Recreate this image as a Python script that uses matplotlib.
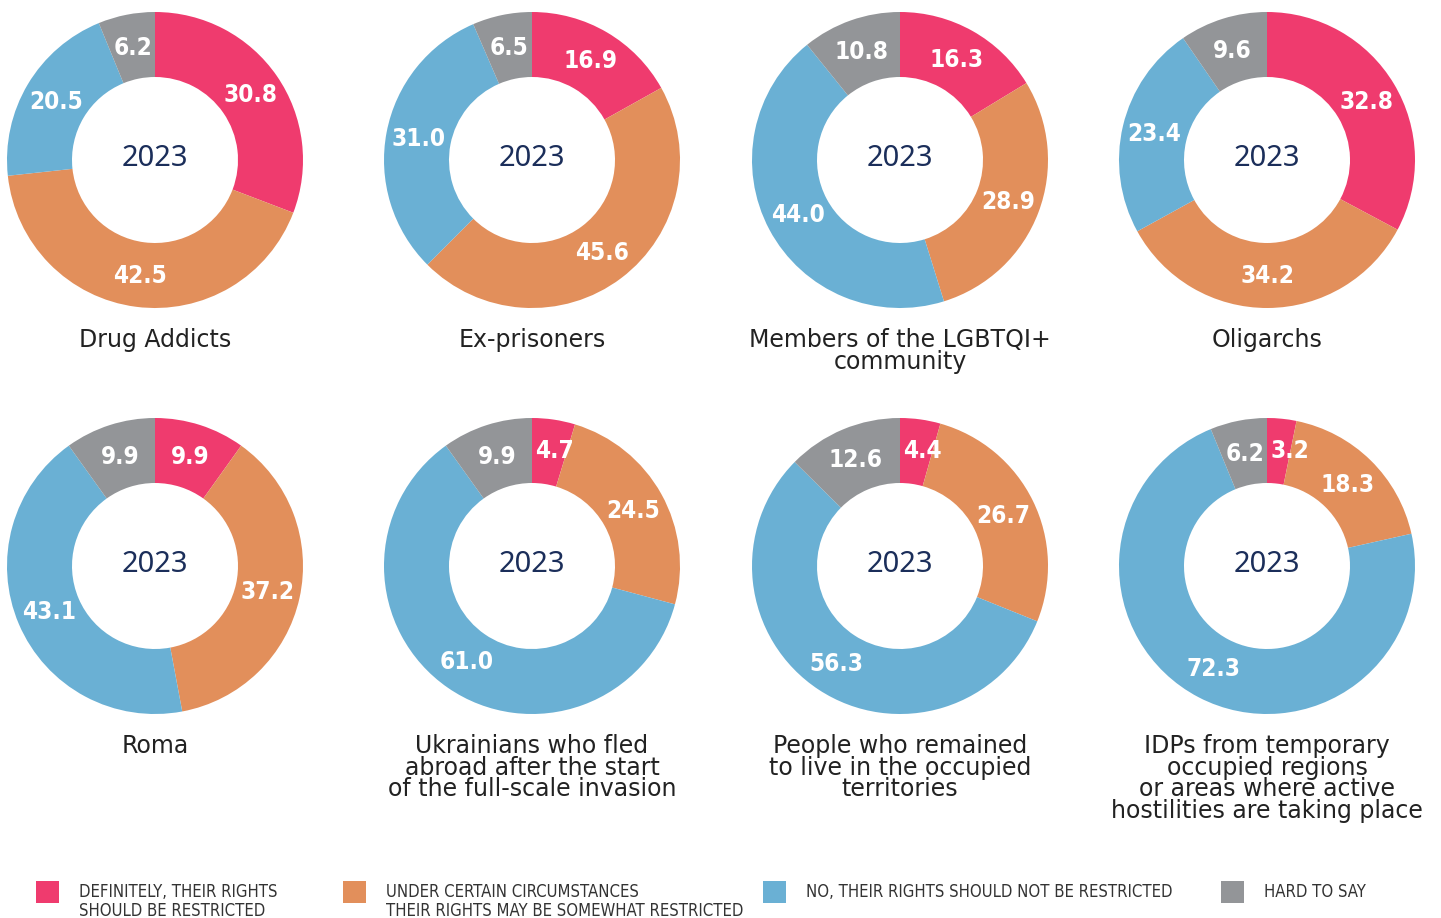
import matplotlib.pyplot as plt
import numpy as np

# categories and shares (definitely / under circumstances / no / hard to say)
titles = ["Drug Addicts", "Ex-prisoners", "Members of the LGBTQI+\ncommunity", "Oligarchs",
          "Roma", "Ukrainians who fled\nabroad after the start\nof the full-scale invasion",
          "People who remained\nto live in the occupied\nterritories",
          "IDPs from temporary\noccupied regions\nor areas where active\nhostilities are taking place"]
definitely = [30.8, 16.9, 16.3, 32.8, 9.9, 4.7, 4.4, 3.2]
circumstances = [42.5, 45.6, 28.9, 34.2, 37.2, 24.5, 26.7, 18.3]
no_restrict = [20.5, 31.0, 44.0, 23.4, 43.1, 61.0, 56.3, 72.3]
hard_to_say = [6.2, 6.5, 10.8, 9.6, 9.9, 9.9, 12.6, 6.2]
year = "2023"
legend_labels = ["DEFINITELY, THEIR RIGHTS\nSHOULD BE RESTRICTED",
                 "UNDER CERTAIN CIRCUMSTANCES\nTHEIR RIGHTS MAY BE SOMEWHAT RESTRICTED",
                 "NO, THEIR RIGHTS SHOULD NOT BE RESTRICTED",
                 "HARD TO SAY"]

colors = ["#EF3B6E", "#E28F5B", "#6AB0D4", "#939598"]
W, H = 1441, 918

fig = plt.figure(figsize=(W / 100, H / 100), dpi=100)
ax = fig.add_axes([0, 0, 1, 1])

xs = [155, 532, 900, 1267]
ys = [H - 160, H - 566]
R = 148
ring = 65

for i, title in enumerate(titles):
    cx = xs[i % 4]
    cy = ys[i // 4]
    vals = [definitely[i], circumstances[i], no_restrict[i], hard_to_say[i]]
    wedges, _ = ax.pie(vals, colors=colors, startangle=90, counterclock=False,
                       center=(cx, cy), radius=R, frame=True,
                       wedgeprops=dict(width=ring, linewidth=0))
    # values in the middle of the ring
    rr = R - ring / 2
    for w, v in zip(wedges, vals):
        if v < 5:
            # tiny slice at the top: push text to the right of the start line
            ang = np.deg2rad(w.theta2)
            tx, ha = cx + rr * np.cos(ang) + 3, "left"
            ty = cy + rr * np.sin(ang)
        else:
            ang = np.deg2rad((w.theta1 + w.theta2) / 2)
            tx, ty, ha = cx + rr * np.cos(ang), cy + rr * np.sin(ang), "center"
        ax.text(tx, ty - 1, f"{v:.1f}", ha=ha, va="center", color="white",
                fontsize=17.5, fontweight="bold", fontstretch="condensed",
                family=["DejaVu Sans"])
    ax.text(cx, cy + 2, year, ha="center", va="center", fontsize=21,
            color="#1B2E5A", family=["Noto Sans", "DejaVu Sans"])
    ax.text(cx, cy - 168, title, ha="center", va="top", fontsize=17,
            color="#222222", linespacing=0.88)

ax.set_xlim(0, W)
ax.set_ylim(0, H)
ax.set_aspect("equal")
ax.axis("off")

# legend
leg_x = [36, 343, 763, 1221]
for lx, lab, c in zip(leg_x, legend_labels, colors):
    ax.add_patch(plt.Rectangle((lx, H - 903), 23, 22, color=c, lw=0))
    ax.text(lx + 43, H - 883, lab, ha="left", va="top", fontsize=12,
            color="#333333", linespacing=1.1,
            family=["DejaVu Sans"], fontstretch="condensed")

fig.savefig("out.png", dpi=100)
